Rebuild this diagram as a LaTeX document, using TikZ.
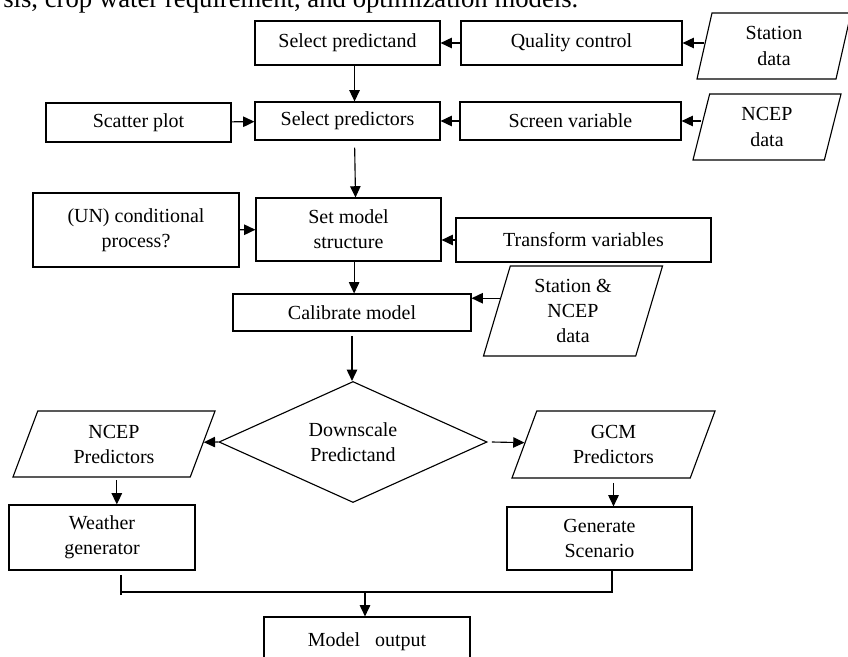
\documentclass[tikz,border=0pt]{standalone}
\usepackage{fontspec}
\setmainfont{Liberation Serif}
\usetikzlibrary{shapes.geometric,calc,arrows.meta}

\begin{document}
\begin{tikzpicture}[
        x=0.025cm,
        y=-0.025cm,
        font=\fontsize{14.2pt}{17.8pt}\selectfont,
        box/.style={draw, line width=0.8pt, inner sep=2pt, align=center},
        io/.style={trapezium, trapezium stretches body=true, draw, line width=0.8pt,
                   inner sep=1pt, align=center},
        decision/.style={diamond, draw, line width=0.8pt, aspect=2.2, inner sep=0pt, align=center},
        link/.style={-{Triangle[length=2.8mm, width=2.6mm]}, line width=0.8pt},
        wire/.style={line width=0.8pt}
    ]
        \useasboundingbox (0,0) rectangle (848,657);
        \clip (0,0) rectangle (848,657);

        % === CAPTION LINE (cut at the top) ===
        \node[anchor=base west, inner sep=0pt, font=\fontsize{19pt}{23pt}\selectfont]
            (caption) at (3,8) {sis, crop water requirement, and optimization models.};

        % === BOXES ===
        % Row 1
        \node[box, minimum width=4.625cm, minimum height=1.1cm] (pand) at (347.5,43) {Select predictand};
        \node[box, minimum width=5.525cm, minimum height=1.1cm] (qc) at (571.5,43) {Quality control};
        \node[io, trapezium left angle=70, trapezium right angle=110,
              minimum width=3.85cm, minimum height=1.65cm] (sdata) at (774,46) {Station\\data};
        % Row 2
        \node[box, minimum width=4.625cm, minimum height=0.975cm] (scatter) at (138.5,122.5) {Scatter plot};
        \node[box, minimum width=4.625cm, minimum height=0.95cm] (pors) at (347.5,121) {Select predictors};
        \node[box, minimum width=5.525cm, minimum height=0.95cm] (screen) at (570.5,121) {Screen variable};
        \node[io, trapezium left angle=68, trapezium right angle=112,
              minimum width=3.7cm, minimum height=1.65cm] (ndata) at (767,127) {NCEP\\data};
        % Row 3
        \node[box, minimum width=5.15cm, minimum height=1.85cm] (cond) at (136,230) {(UN) conditional\\process?};
        \node[box, minimum width=4.625cm, minimum height=1.575cm] (setmodel) at (348.5,229.5) {Set model\\structure};
        \node[box, minimum width=6.375cm, minimum height=1.1cm] (transform) at (583.5,240) {Transform variables};
        % Row 4
        \node[box, minimum width=5.95cm, minimum height=0.925cm] (calib) at (352,312.5) {Calibrate model};
        \node[io, trapezium left angle=68, trapezium right angle=112,
              minimum width=4.475cm, minimum height=2.25cm] (sncep) at (573,311) {Station \&\\NCEP\\data};
        % Decision
        \node[decision, minimum width=6.7cm, minimum height=3.025cm] (downscale) at (353,442) {Downscale\\Predictand};
        % Row 6
        \node[io, trapezium left angle=59, trapezium right angle=121,
              minimum width=5.05cm, minimum height=1.65cm] (npred) at (114,444) {NCEP\\Predictors};
        \node[io, trapezium left angle=59, trapezium right angle=121,
              minimum width=5.075cm, minimum height=1.675cm] (gcm) at (613.5,444.5) {GCM\\Predictors};
        % Row 7
        \node[box, minimum width=4.65cm, minimum height=1.625cm] (weather) at (102,537.5) {Weather\\generator};
        \node[box, minimum width=4.625cm, minimum height=1.575cm] (generate) at (599.5,538.5) {Generate\\Scenario};
        % Output (cut at the bottom)
        \node[box, minimum width=5.15cm, minimum height=1.25cm] (output) at (367,642) {Model~~~output};

        % === MAIN FLOW ===
        \draw[link] ([xshift=5pt]pand.south) -- ([xshift=5pt]pors.north);
        \draw[link, shorten <=5pt] ([xshift=5pt]pors.south) -- ([xshift=5pt]setmodel.north);
        \draw[link] ([xshift=4pt]setmodel.south) -- ([xshift=4pt]setmodel.south |- calib.north);
        \draw[link, shorten <=3pt] (calib.south) -- (calib.south |- downscale.north);

        % === SIDE INPUTS ===
        \draw[link] (qc) -- (pand);
        \draw[link] (sdata.west |- qc) -- (qc.east);
        \draw[link] (scatter) -- (pors);
        \draw[link] (screen) -- (pors);
        \draw[link] (ndata.west |- screen) -- (screen.east);
        \draw[link] (cond) -- (setmodel);
        \draw[link] (transform.west) -- (transform.west -| setmodel.east);
        \coordinate (snin) at ($(sncep.bottom left corner)!0.64!(sncep.top left corner)$);
        \draw[link] (snin) -- (snin -| calib.east);

        % === BRANCHES ===
        \draw[link] (downscale.west) -- (npred);
        \draw[link] ([xshift=3pt]downscale.east) -- (gcm);
        \draw[link, shorten <=2pt] ([xshift=2pt]npred.center |- npred.south) -- ([xshift=2pt]npred.center |- weather.north);
        \draw[link, shorten <=3pt] (gcm.center |- gcm.south) -- (gcm.center |- generate.north);

        % === MERGE ===
        \coordinate (merge) at (365,592);
        \coordinate (mergeleft) at (121,595);
        \coordinate (mergeright) at (612,592);
        \draw[wire, shorten <=3pt] (weather.south -| mergeleft) -- (mergeleft);
        \draw[wire] (mergeleft |- merge) -- (mergeright) -- (generate.south -| mergeright);
        \draw[link] (merge) -- (merge |- output.north);
\end{tikzpicture}
\end{document}
